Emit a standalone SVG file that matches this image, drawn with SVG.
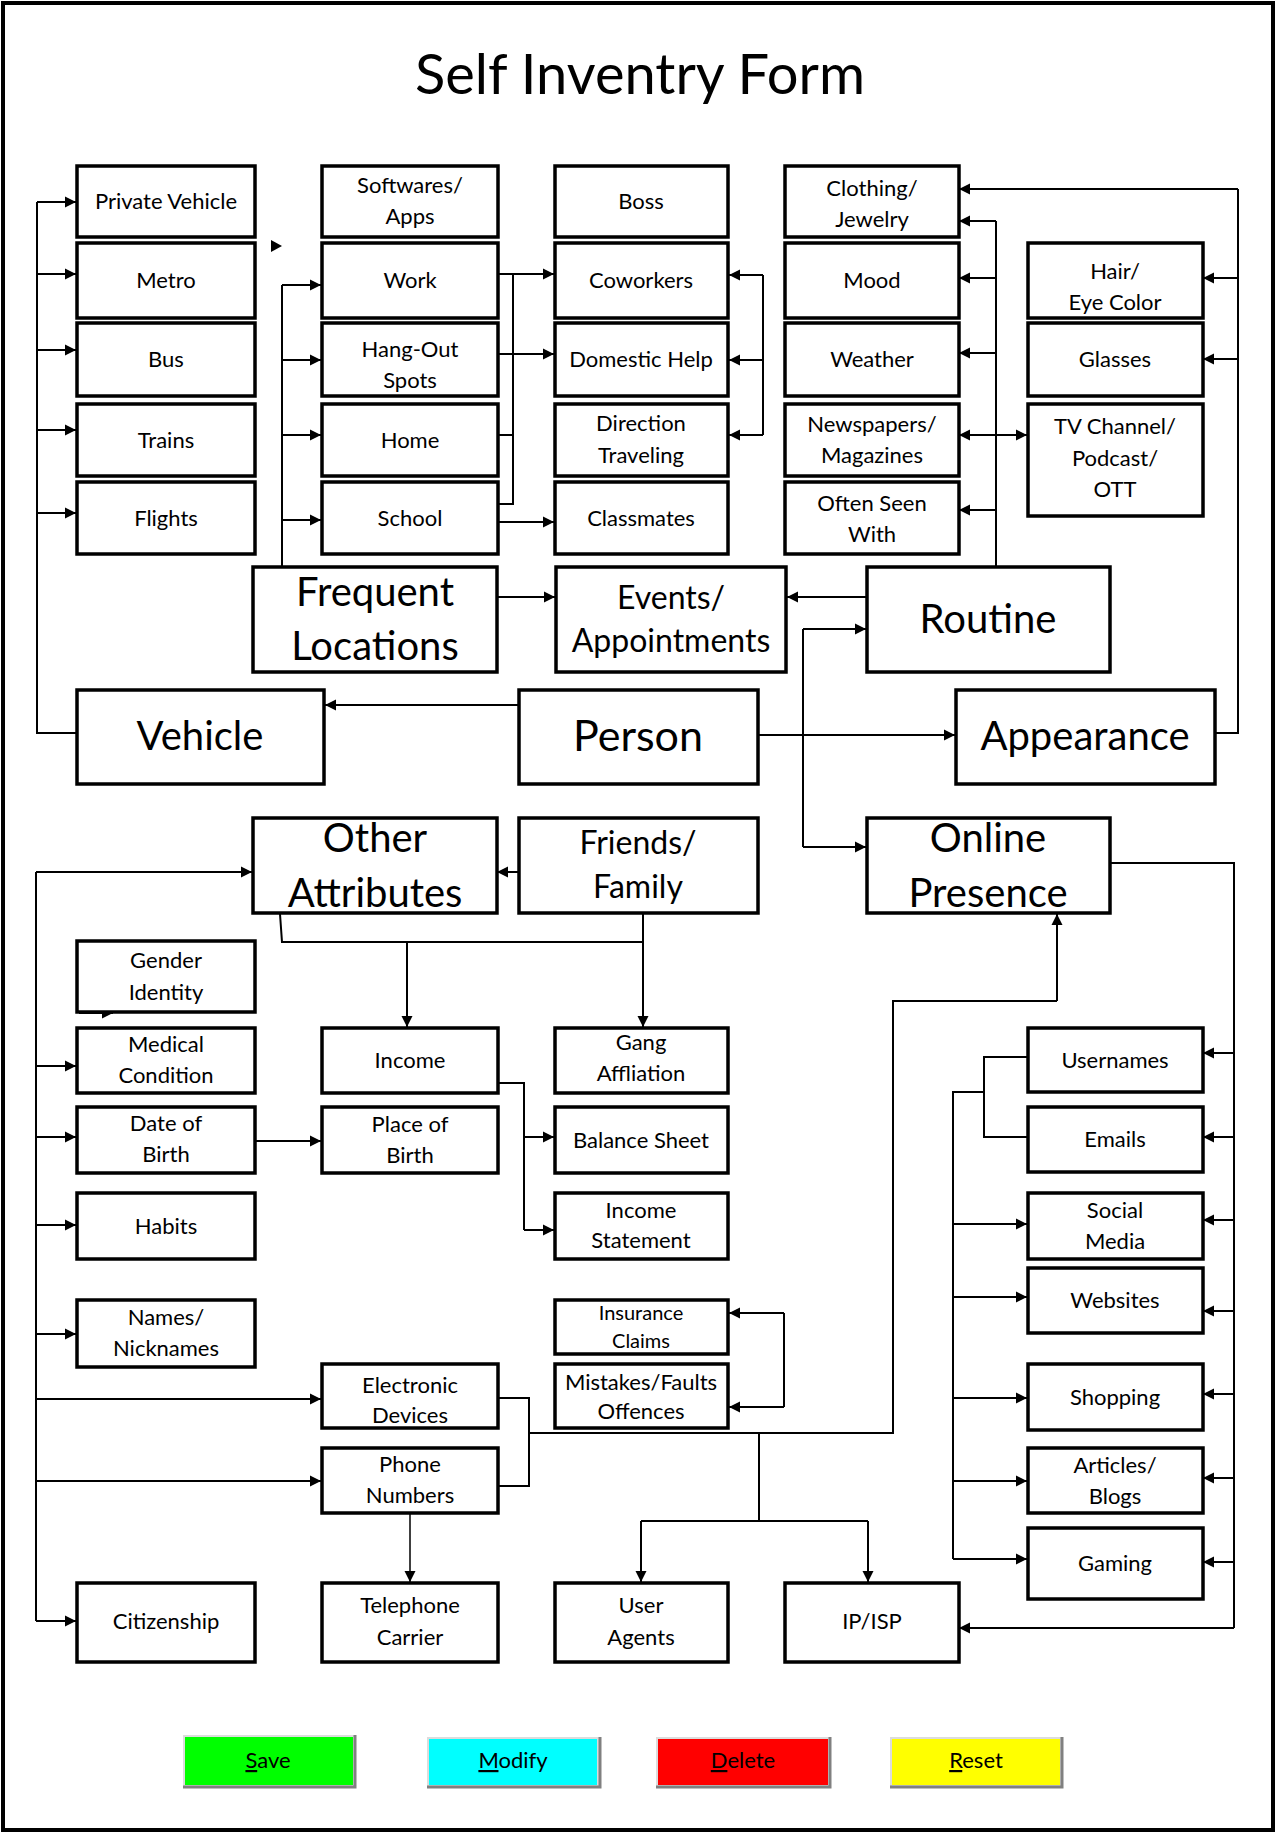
<svg xmlns="http://www.w3.org/2000/svg" width="1277" height="1833" viewBox="0 0 1277 1833">
<style>
.n{fill:#fff;stroke:#000;stroke-width:3.5}
.t{font-family:Lato,"Liberation Sans",sans-serif;font-size:22px;text-anchor:middle;fill:#000}
.s{font-size:20px}
.b{font-size:40px}
.m{font-size:32px}
.c{fill:none;stroke:#000;stroke-width:2}
.a{marker-end:url(#ah)}
</style>
<defs>
<marker id="ah" markerUnits="userSpaceOnUse" markerWidth="12" markerHeight="12" refX="11" refY="6" orient="auto">
<path d="M0,0.5 L11,6 L0,11.5 z" fill="#000"/>
</marker>
<marker id="as" markerUnits="userSpaceOnUse" markerWidth="12" markerHeight="12" refX="0" refY="6" orient="auto">
<path d="M11,0.5 L0,6 L11,11.5 z" fill="#000"/>
</marker>
</defs>
<rect x="0" y="0" width="1277" height="1833" fill="#fff"/>
<rect x="3" y="3" width="1270" height="1827" fill="none" stroke="#000" stroke-width="4"/>
<text class="t" x="640" y="94" style="font-size:56px">Self Inventry Form</text>

<g id="connectors">
<path class="c" d="M77,733 H37 V202"/>
<path class="c a" d="M37,202 H76"/>
<path class="c a" d="M37,274 H76"/>
<path class="c a" d="M37,350 H76"/>
<path class="c a" d="M37,430 H76"/>
<path class="c a" d="M37,513 H76"/>
<polygon points="271,240 282,246 271,252" fill="#000"/>
<path class="c" d="M282,567 V285"/>
<path class="c a" d="M282,285 H321"/>
<path class="c a" d="M282,360 H321"/>
<path class="c a" d="M282,435 H321"/>
<path class="c a" d="M282,520 H321"/>
<path class="c a" d="M498,274 H554"/>
<path class="c" d="M513,274 V504 H498"/>
<path class="c a" d="M498,354 H554"/>
<path class="c" d="M498,435 H513"/>
<path class="c a" d="M498,522 H554"/>
<path class="c" d="M763,275 V435"/>
<path class="c a" d="M763,275 H729"/>
<path class="c a" d="M763,360 H729"/>
<path class="c a" d="M763,435 H729"/>
<path class="c" d="M996,567 V221"/>
<path class="c a" d="M996,221 H959"/>
<path class="c a" d="M996,278 H959"/>
<path class="c a" d="M996,353 H959"/>
<path class="c a" d="M996,510 H959"/>
<path class="c" d="M959,435 H1027" marker-start="url(#as)" marker-end="url(#ah)"/>
<path class="c" d="M1215,733 H1238 V189"/>
<path class="c a" d="M1238,189 H959"/>
<path class="c a" d="M1238,278 H1203"/>
<path class="c a" d="M1238,359 H1203"/>
<path class="c a" d="M497,597 H555"/>
<path class="c a" d="M867,597 H787"/>
<path class="c a" d="M519,705 H325"/>
<path class="c a" d="M758,735 H955"/>
<path class="c" d="M803,629 V847"/>
<path class="c a" d="M803,629 H866"/>
<path class="c a" d="M803,847 H866"/>
<path class="c a" d="M519,872 H497"/>
<path class="c a" d="M36,872 H252"/>
<path class="c" d="M36,872 V1621"/>
<path class="c a" d="M79,1013 H113"/>
<path class="c a" d="M36,1066 H76"/>
<path class="c a" d="M36,1137 H76"/>
<path class="c a" d="M36,1225 H76"/>
<path class="c a" d="M36,1334 H76"/>
<path class="c a" d="M36,1399 H321"/>
<path class="c a" d="M36,1481 H321"/>
<path class="c a" d="M36,1621 H76"/>
<path class="c" d="M280,914 L282,942 H643"/>
<path class="c a" d="M643,914 V1027"/>
<path class="c a" d="M407,942 V1027"/>
<path class="c" d="M498,1083 H524 V1230"/>
<path class="c a" d="M524,1137 H554"/>
<path class="c a" d="M524,1230 H554"/>
<path class="c a" d="M256,1141 H321"/>
<path class="c" d="M784,1313 V1407"/>
<path class="c a" d="M784,1313 H729"/>
<path class="c a" d="M784,1407 H729"/>
<path class="c" d="M498,1398 H529 V1486 H498"/>
<path class="c" d="M529,1433 H893 V1001 H1057"/>
<path class="c a" d="M1057,1001 V914"/>
<path class="c" d="M759,1433 V1521"/>
<path class="c" d="M641,1521 H868"/>
<path class="c a" d="M641,1521 V1582"/>
<path class="c a" d="M868,1521 V1582"/>
<path class="c a" d="M410,1514 V1582" style="stroke-width:1.5"/>
<path class="c" d="M1110,863 H1234 V1628"/>
<path class="c a" d="M1234,1628 H959"/>
<path class="c a" d="M1234,1053 H1203"/>
<path class="c a" d="M1234,1137 H1203"/>
<path class="c a" d="M1234,1220 H1203"/>
<path class="c a" d="M1234,1311 H1203"/>
<path class="c a" d="M1234,1394 H1203"/>
<path class="c a" d="M1234,1478 H1203"/>
<path class="c a" d="M1234,1562 H1203"/>
<path class="c" d="M1028,1057 H984 V1137 H1028"/>
<path class="c" d="M984,1092 H953 V1559"/>
<path class="c a" d="M953,1224 H1027"/>
<path class="c a" d="M953,1297 H1027"/>
<path class="c a" d="M953,1398 H1027"/>
<path class="c a" d="M953,1481 H1027"/>
<path class="c a" d="M953,1559 H1027"/>
</g>

<g id="private-vehicle"><rect class="n" x="77" y="166" width="178" height="71"/><text class="t" x="166" y="209">Private Vehicle</text></g>
<g id="metro"><rect class="n" x="77" y="243" width="178" height="75"/><text class="t" x="166" y="288">Metro</text></g>
<g id="bus"><rect class="n" x="77" y="323" width="178" height="73"/><text class="t" x="166" y="367">Bus</text></g>
<g id="trains"><rect class="n" x="77" y="404" width="178" height="72"/><text class="t" x="166" y="448">Trains</text></g>
<g id="flights"><rect class="n" x="77" y="482" width="178" height="72"/><text class="t" x="166" y="526">Flights</text></g>
<g id="softwares"><rect class="n" x="322" y="166" width="176" height="71"/><text class="t" x="410" y="193">Softwares/</text><text class="t" x="410" y="224">Apps</text></g>
<g id="work"><rect class="n" x="322" y="243" width="176" height="75"/><text class="t" x="410" y="288">Work</text></g>
<g id="hangout"><rect class="n" x="322" y="323" width="176" height="73"/><text class="t" x="410" y="357">Hang-Out</text><text class="t" x="410" y="388">Spots</text></g>
<g id="home"><rect class="n" x="322" y="404" width="176" height="72"/><text class="t" x="410" y="448">Home</text></g>
<g id="school"><rect class="n" x="322" y="482" width="176" height="72"/><text class="t" x="410" y="526">School</text></g>
<g id="boss"><rect class="n" x="555" y="166" width="173" height="71"/><text class="t" x="641" y="209">Boss</text></g>
<g id="coworkers"><rect class="n" x="555" y="243" width="173" height="75"/><text class="t" x="641" y="288">Coworkers</text></g>
<g id="domestic"><rect class="n" x="555" y="323" width="173" height="73"/><text class="t" x="641" y="367">Domestic Help</text></g>
<g id="direction"><rect class="n" x="555" y="404" width="173" height="72"/><text class="t" x="641" y="431">Direction</text><text class="t" x="641" y="463">Traveling</text></g>
<g id="classmates"><rect class="n" x="555" y="482" width="173" height="72"/><text class="t" x="641" y="526">Classmates</text></g>
<g id="clothing"><rect class="n" x="785" y="166" width="174" height="71"/><text class="t" x="872" y="196">Clothing/</text><text class="t" x="872" y="227">Jewelry</text></g>
<g id="mood"><rect class="n" x="785" y="243" width="174" height="75"/><text class="t" x="872" y="288">Mood</text></g>
<g id="weather"><rect class="n" x="785" y="323" width="174" height="73"/><text class="t" x="872" y="367">Weather</text></g>
<g id="newspapers"><rect class="n" x="785" y="404" width="174" height="72"/><text class="t" x="872" y="432">Newspapers/</text><text class="t" x="872" y="463">Magazines</text></g>
<g id="often"><rect class="n" x="785" y="482" width="174" height="72"/><text class="t" x="872" y="511">Often Seen</text><text class="t" x="872" y="542">With</text></g>
<g id="hair"><rect class="n" x="1028" y="243" width="175" height="75"/><text class="t" x="1115" y="279">Hair/</text><text class="t" x="1115" y="310">Eye Color</text></g>
<g id="glasses"><rect class="n" x="1028" y="323" width="175" height="73"/><text class="t" x="1115" y="367">Glasses</text></g>
<g id="tv"><rect class="n" x="1028" y="404" width="175" height="112"/><text class="t" x="1115" y="434">TV Channel/</text><text class="t" x="1115" y="466">Podcast/</text><text class="t" x="1115" y="497">OTT</text></g>

<g id="frequent-locations"><rect class="n" x="253" y="567" width="244" height="105"/><text class="t b" x="375" y="606">Frequent</text><text class="t b" x="375" y="660">Locations</text></g>
<g id="events"><rect class="n" x="556" y="567" width="230" height="105"/><text class="t m" x="671" y="609">Events/</text><text class="t m" x="671" y="652">Appointments</text></g>
<g id="routine"><rect class="n" x="867" y="567" width="243" height="105"/><text class="t b" x="988" y="633">Routine</text></g>
<g id="vehicle"><rect class="n" x="77" y="690" width="247" height="94"/><text class="t b" x="200" y="750">Vehicle</text></g>
<g id="person"><rect class="n" x="519" y="690" width="239" height="94"/><text class="t b" x="638" y="751" style="font-size:43px">Person</text></g>
<g id="appearance"><rect class="n" x="956" y="690" width="259" height="94"/><text class="t b" x="1085" y="750">Appearance</text></g>
<g id="other-attributes"><rect class="n" x="253" y="818" width="244" height="95"/><text class="t b" x="375" y="852">Other</text><text class="t b" x="375" y="907">Attributes</text></g>
<g id="friends-family"><rect class="n" x="519" y="818" width="239" height="95"/><text class="t m" x="638" y="854">Friends/</text><text class="t m" x="638" y="898">Family</text></g>
<g id="online-presence"><rect class="n" x="867" y="818" width="243" height="95"/><text class="t b" x="988" y="852">Online</text><text class="t b" x="988" y="907">Presence</text></g>

<g id="gender"><rect class="n" x="77" y="941" width="178" height="71"/><text class="t" x="166" y="968">Gender</text><text class="t" x="166" y="1000">Identity</text></g>
<g id="medical"><rect class="n" x="77" y="1028" width="178" height="65"/><text class="t" x="166" y="1052">Medical</text><text class="t" x="166" y="1083">Condition</text></g>
<g id="dob"><rect class="n" x="77" y="1107" width="178" height="66"/><text class="t" x="166" y="1131">Date of</text><text class="t" x="166" y="1162">Birth</text></g>
<g id="habits"><rect class="n" x="77" y="1193" width="178" height="66"/><text class="t" x="166" y="1234">Habits</text></g>
<g id="names"><rect class="n" x="77" y="1300" width="178" height="67"/><text class="t" x="166" y="1325">Names/</text><text class="t" x="166" y="1356">Nicknames</text></g>
<g id="citizenship"><rect class="n" x="77" y="1583" width="178" height="79"/><text class="t" x="166" y="1629">Citizenship</text></g>
<g id="income"><rect class="n" x="322" y="1028" width="176" height="65"/><text class="t" x="410" y="1068">Income</text></g>
<g id="pob"><rect class="n" x="322" y="1107" width="176" height="66"/><text class="t" x="410" y="1132">Place of</text><text class="t" x="410" y="1163">Birth</text></g>
<g id="electronic"><rect class="n" x="322" y="1364" width="176" height="64"/><text class="t" x="410" y="1393">Electronic</text><text class="t" x="410" y="1423">Devices</text></g>
<g id="phone"><rect class="n" x="322" y="1448" width="176" height="65"/><text class="t" x="410" y="1472">Phone</text><text class="t" x="410" y="1503">Numbers</text></g>
<g id="telephone"><rect class="n" x="322" y="1583" width="176" height="79"/><text class="t" x="410" y="1613">Telephone</text><text class="t" x="410" y="1645">Carrier</text></g>
<g id="gang"><rect class="n" x="555" y="1028" width="173" height="65"/><text class="t" x="641" y="1050">Gang</text><text class="t" x="641" y="1081">Affliation</text></g>
<g id="balance"><rect class="n" x="555" y="1107" width="173" height="66"/><text class="t" x="641" y="1148">Balance Sheet</text></g>
<g id="income-statement"><rect class="n" x="555" y="1193" width="173" height="66"/><text class="t" x="641" y="1218">Income</text><text class="t" x="641" y="1248">Statement</text></g>
<g id="insurance"><rect class="n" x="555" y="1300" width="173" height="54"/><text class="t s" x="641" y="1320">Insurance</text><text class="t s" x="641" y="1348">Claims</text></g>
<g id="mistakes"><rect class="n" x="555" y="1364" width="173" height="64"/><text class="t" x="641" y="1390">Mistakes/Faults</text><text class="t" x="641" y="1419">Offences</text></g>
<g id="user-agents"><rect class="n" x="555" y="1583" width="173" height="79"/><text class="t" x="641" y="1613">User</text><text class="t" x="641" y="1645">Agents</text></g>
<g id="ip-isp"><rect class="n" x="785" y="1583" width="174" height="79"/><text class="t" x="872" y="1629">IP/ISP</text></g>
<g id="usernames"><rect class="n" x="1028" y="1028" width="175" height="64"/><text class="t" x="1115" y="1068">Usernames</text></g>
<g id="emails"><rect class="n" x="1028" y="1107" width="175" height="65"/><text class="t" x="1115" y="1147">Emails</text></g>
<g id="social"><rect class="n" x="1028" y="1193" width="175" height="66"/><text class="t" x="1115" y="1218">Social</text><text class="t" x="1115" y="1249">Media</text></g>
<g id="websites"><rect class="n" x="1028" y="1268" width="175" height="65"/><text class="t" x="1115" y="1308">Websites</text></g>
<g id="shopping"><rect class="n" x="1028" y="1364" width="175" height="66"/><text class="t" x="1115" y="1405">Shopping</text></g>
<g id="articles"><rect class="n" x="1028" y="1448" width="175" height="65"/><text class="t" x="1115" y="1473">Articles/</text><text class="t" x="1115" y="1504">Blogs</text></g>
<g id="gaming"><rect class="n" x="1028" y="1528" width="175" height="71"/><text class="t" x="1115" y="1571">Gaming</text></g>

<g id="btn-save"><rect x="183" y="1735" width="172" height="52" fill="#dcdcdc"/><rect x="185" y="1737" width="168" height="48" fill="#00ff00"/><text class="t" x="268" y="1768"><tspan style="text-decoration:underline">S</tspan>ave</text><path d="M183,1787 H355 V1735" fill="none" stroke="#808080" stroke-width="3"/></g>
<g id="btn-modify"><rect x="427" y="1737" width="173" height="51" fill="#dcdcdc"/><rect x="429" y="1739" width="168" height="46" fill="#00ffff"/><text class="t" x="513" y="1768"><tspan style="text-decoration:underline">M</tspan>odify</text><path d="M427,1787 H600 V1737" fill="none" stroke="#808080" stroke-width="3"/></g>
<g id="btn-delete"><rect x="656" y="1737" width="175" height="51" fill="#dcdcdc"/><rect x="658" y="1739" width="170" height="46" fill="#ff0000"/><text class="t" x="743" y="1768"><tspan style="text-decoration:underline">D</tspan>elete</text><path d="M656,1787 H830 V1737" fill="none" stroke="#808080" stroke-width="3"/></g>
<g id="btn-reset"><rect x="890" y="1737" width="173" height="51" fill="#dcdcdc"/><rect x="892" y="1739" width="168" height="46" fill="#ffff00"/><text class="t" x="976" y="1768"><tspan style="text-decoration:underline">R</tspan>eset</text><path d="M890,1787 H1062 V1737" fill="none" stroke="#808080" stroke-width="3"/></g>
</svg>
